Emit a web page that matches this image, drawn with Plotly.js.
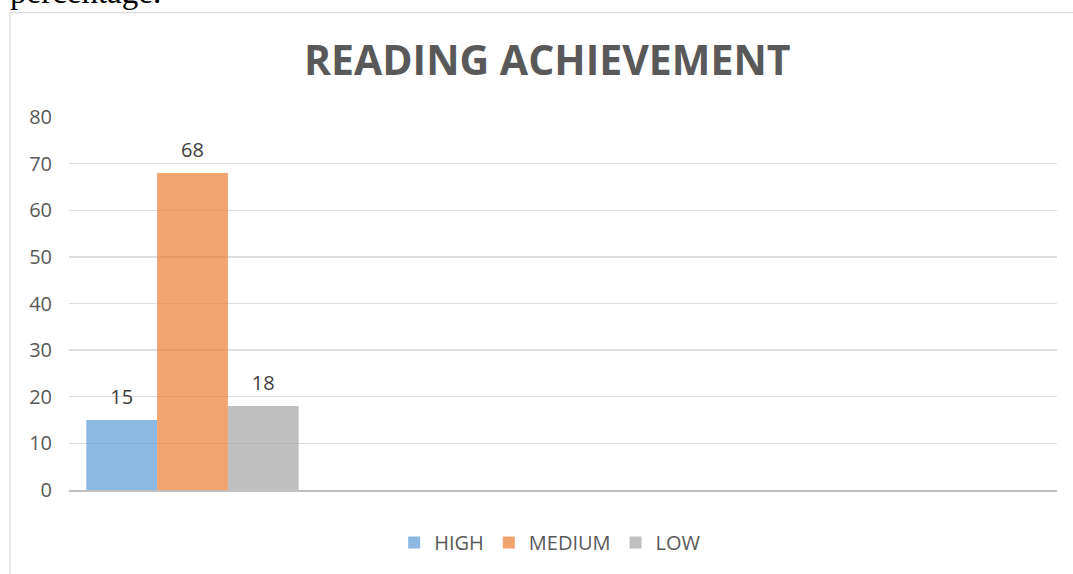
<!DOCTYPE html>
<html>
<head>
<meta charset="utf-8">
<script src="https://cdn.plot.ly/plotly-3.0.1.min.js"></script>
<style>html,body{margin:0;padding:0;background:#fff;}#chart{width:1073px;height:574px;}</style>
</head>
<body>
<div id="chart"></div>
<script>
var categories = ["Reading", "b", "c", "d"];
var seriesNames = ["HIGH", "MEDIUM", "LOW"];
var highValues = [15];
var mediumValues = [68];
var lowValues = [18];
var yTicks = [0, 10, 20, 30, 40, 50, 60, 70, 80];

var colors = ["rgba(91,155,213,0.7)", "rgba(237,125,49,0.7)", "rgba(165,165,165,0.7)"];
var seriesValues = [highValues, mediumValues, lowValues];
var font = "Open Sans, sans-serif";

var traces = [];
seriesValues.forEach(function (vals, i) {
  traces.push({
    type: "bar",
    name: seriesNames[i],
    x: categories.slice(0, vals.length),
    y: vals,
    offsetgroup: String(i),
    marker: { color: colors[i], line: { width: 0 } },
    hoverinfo: "skip"
  });
});
seriesValues.forEach(function (vals, i) {
  traces.push({
    type: "scatter",
    mode: "markers+text",
    x: categories.slice(0, vals.length),
    y: vals,
    offsetgroup: String(i),
    text: vals.map(String),
    textposition: "top center",
    textfont: { family: font, size: 20, color: "#404040" },
    marker: { size: 16, color: "rgba(0,0,0,0)" },
    showlegend: false,
    hoverinfo: "skip",
    cliponaxis: false
  });
});

var layout = {
  width: 1073,
  height: 574,
  margin: { l: 69, r: 16, t: 117, b: 81 },
  paper_bgcolor: "#ffffff",
  plot_bgcolor: "#ffffff",
  barmode: "group",
  bargap: 0.14,
  scattermode: "group",
  scattergap: 0.14,
  title: {
    text: "<b>READING ACHIEVEMENT</b>",
    font: { family: font, size: 41, color: "#595959" },
    x: 0.51, xref: "container", xanchor: "center",
    y: 0.895, yref: "container", yanchor: "middle"
  },
  xaxis: {
    type: "category",
    categoryarray: categories,
    range: [-0.5, categories.length - 0.5],
    showticklabels: false,
    showgrid: false,
    zeroline: false,
    showline: true,
    linecolor: "#bfbfbf",
    linewidth: 2,
    ticks: "",
    fixedrange: true
  },
  yaxis: {
    range: [0, 80],
    tickvals: yTicks,
    showgrid: true,
    gridcolor: "#dedede",
    gridwidth: 1.3,
    zeroline: false,
    showline: false,
    ticks: "",
    ticklabelstandoff: 16,
    tickfont: { family: font, size: 20, color: "#595959" },
    fixedrange: true
  },
  showlegend: true,
  legend: {
    orientation: "h",
    x: 0.487, xanchor: "center",
    y: -0.141, yanchor: "middle",
    font: { family: font, size: 20, color: "#595959" },
    itemwidth: 30,
    traceorder: "normal"
  },
  shapes: [{
    type: "rect", xref: "paper", yref: "paper",
    x0: -0.0597, x1: 1.3, y0: -1, y1: 1.28,
    line: { color: "#d9d9d9", width: 1.2 },
    fillcolor: "rgba(0,0,0,0)", layer: "below"
  }],
  annotations: [{
    text: "percentage.",
    xref: "paper", yref: "paper",
    x: -0.0617, xanchor: "left",
    y: 1.2827, yanchor: "bottom",
    showarrow: false,
    font: { family: "Liberation Serif, serif", size: 33, color: "#000000" }
  }]
};

Plotly.newPlot("chart", traces, layout, { staticPlot: true, displayModeBar: false });
</script>
</body>
</html>
